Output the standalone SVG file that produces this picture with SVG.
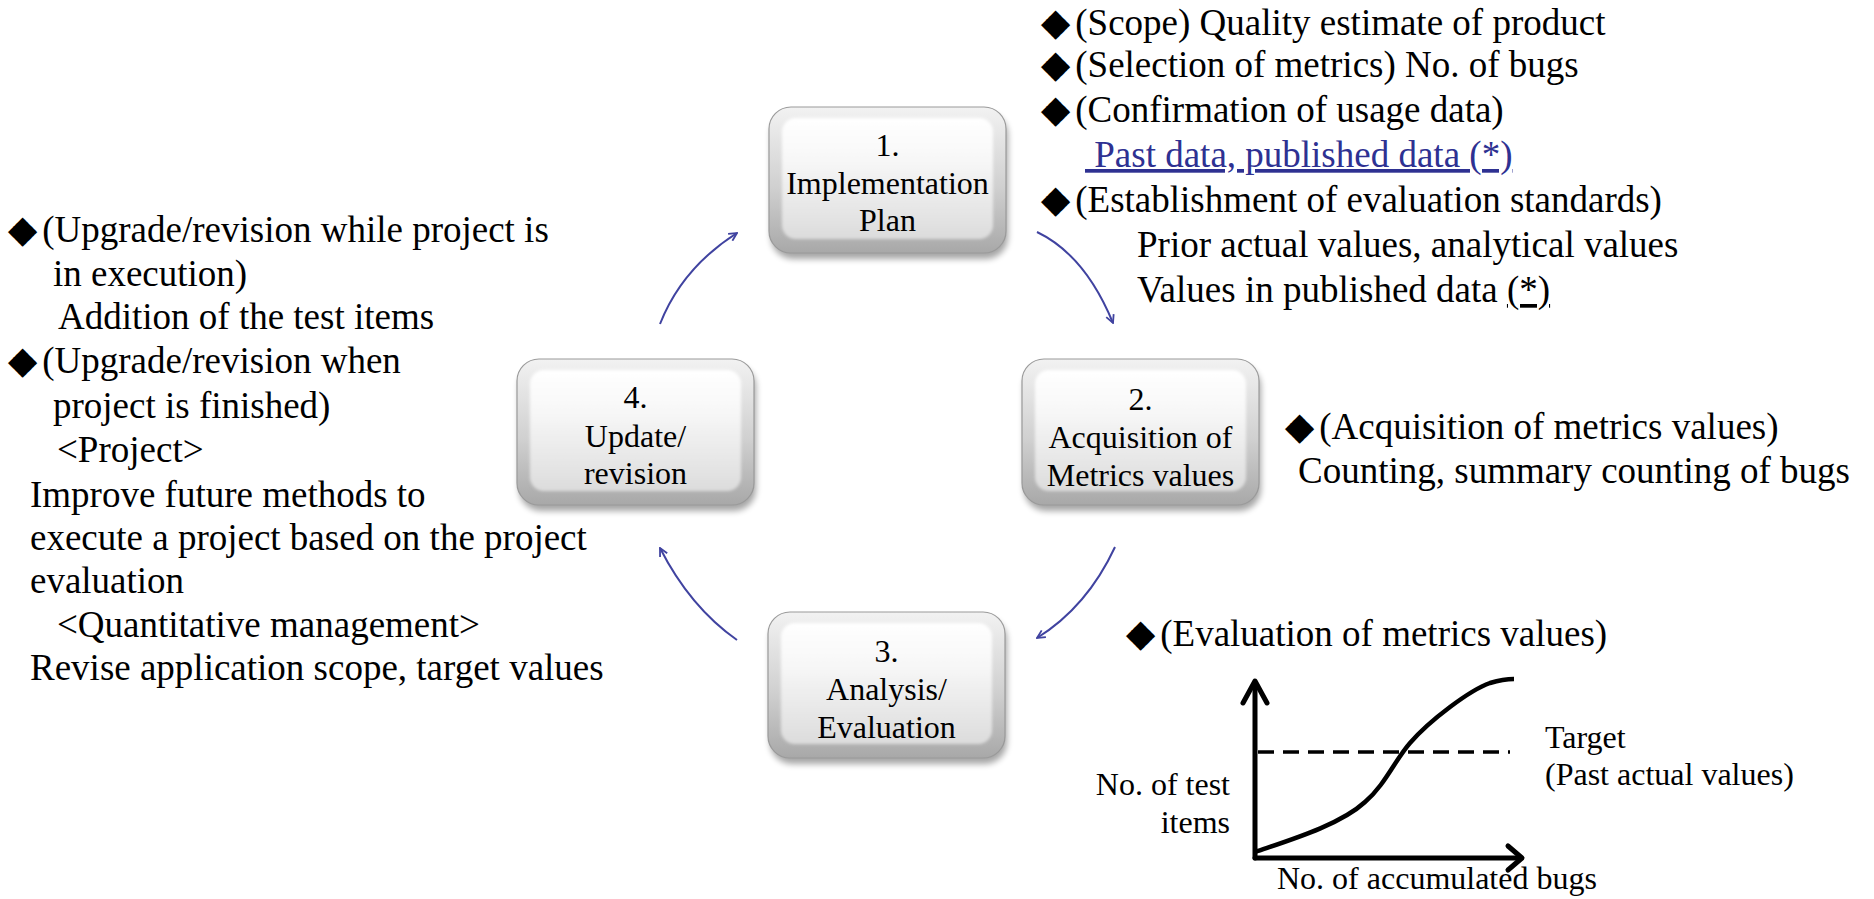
<svg xmlns="http://www.w3.org/2000/svg" width="1874" height="899" viewBox="0 0 1874 899">
<style>
.t{font-family:"Liberation Serif",serif;font-size:37px;fill:#000}
.d{font-family:"DejaVu Sans",sans-serif;font-size:38px;letter-spacing:5px}
.lnk{fill:#2e3192;text-decoration:underline}
.u{text-decoration:underline}
.b{font-family:"Liberation Serif",serif;font-size:32px;fill:#000;text-anchor:middle}
.c{font-family:"Liberation Serif",serif;font-size:32px;fill:#000}
.arr{fill:none;stroke:#4043a0;stroke-width:2;marker-end:url(#ah)}
.ax{fill:none;stroke:#000;stroke-width:5;stroke-linecap:round;stroke-linejoin:round}
.outer{fill:url(#gOuter);stroke:#9a9a9a;stroke-width:1.2}
.inner{fill:url(#gInner)}
.shadow{fill:#000;opacity:0.35;filter:url(#blur)}
</style>
<defs>
<linearGradient id="gOuter" x1="0" y1="0" x2="0" y2="1">
<stop offset="0" stop-color="#f2f2f2"/>
<stop offset="0.55" stop-color="#d0d0d0"/>
<stop offset="1" stop-color="#a8a8a8"/>
</linearGradient>
<linearGradient id="gInner" x1="0" y1="0" x2="0" y2="1">
<stop offset="0" stop-color="#ffffff"/>
<stop offset="0.35" stop-color="#f7f7f7"/>
<stop offset="1" stop-color="#dcdcdc"/>
</linearGradient>
<filter id="blur" x="-10%" y="-10%" width="120%" height="130%">
<feGaussianBlur stdDeviation="3"/>
</filter>
<filter id="soft" x="-5%" y="-5%" width="110%" height="110%">
<feGaussianBlur stdDeviation="1.5"/>
</filter>
<marker id="ah" viewBox="0 0 10 10" refX="9" refY="5" markerWidth="10" markerHeight="10" markerUnits="userSpaceOnUse" orient="auto">
<path d="M1,1 L9,5 L1,9" fill="none" stroke="#4043a0" stroke-width="1.8"/>
</marker>
</defs>

<g id="node1">
<rect class="shadow" x="771" y="113" width="237" height="146" rx="22"/>
<rect class="outer" x="769" y="107" width="237" height="146" rx="22"/>
<rect class="inner" x="782" y="118" width="211" height="121" rx="14" filter="url(#soft)"/>
<text class="b" x="887.5" y="156">1.</text>
<text class="b" x="887.5" y="194">Implementation</text>
<text class="b" x="887.5" y="231">Plan</text>
</g>

<g id="node2">
<rect class="shadow" x="1024" y="365" width="237" height="146" rx="22"/>
<rect class="outer" x="1022" y="359" width="237" height="146" rx="22"/>
<rect class="inner" x="1035" y="370" width="211" height="121" rx="14" filter="url(#soft)"/>
<text class="b" x="1140.5" y="410">2.</text>
<text class="b" x="1140.5" y="448">Acquisition of</text>
<text class="b" x="1140.5" y="486">Metrics values</text>
</g>

<g id="node3">
<rect class="shadow" x="770" y="618" width="237" height="146" rx="22"/>
<rect class="outer" x="768" y="612" width="237" height="146" rx="22"/>
<rect class="inner" x="781" y="623" width="211" height="121" rx="14" filter="url(#soft)"/>
<text class="b" x="886.5" y="662">3.</text>
<text class="b" x="886.5" y="700">Analysis/</text>
<text class="b" x="886.5" y="738">Evaluation</text>
</g>

<g id="node4">
<rect class="shadow" x="519" y="365" width="237" height="146" rx="22"/>
<rect class="outer" x="517" y="359" width="237" height="146" rx="22"/>
<rect class="inner" x="530" y="370" width="211" height="121" rx="14" filter="url(#soft)"/>
<text class="b" x="635.5" y="408">4.</text>
<text class="b" x="635.5" y="447">Update/</text>
<text class="b" x="635.5" y="484">revision</text>
</g>

<g id="connectors">
<path class="arr" d="M1037,232 Q1085,255 1113,323"/>
<path class="arr" d="M1115,547 Q1087,607 1037,638"/>
<path class="arr" d="M737,640 Q690,607 660,548"/>
<path class="arr" d="M660,324 Q682,268 737,233"/>
</g>

<g id="notes-plan">
<text class="t" x="1041" y="35"><tspan class="d">◆</tspan>(Scope) Quality estimate of product</text>
<text class="t" x="1041" y="77"><tspan class="d">◆</tspan>(Selection of metrics) No. of bugs</text>
<text class="t" x="1041" y="122"><tspan class="d">◆</tspan>(Confirmation of usage data)</text>
<text class="t lnk" x="1085" y="167" xml:space="preserve"> Past data, published data (*)</text>
<text class="t" x="1041" y="212"><tspan class="d">◆</tspan>(Establishment of evaluation standards)</text>
<text class="t" x="1137" y="257">Prior actual values, analytical values</text>
<text class="t" x="1137" y="302">Values in published data <tspan class="u">(*)</tspan></text>
</g>

<g id="notes-acquisition">
<text class="t" x="1285" y="439"><tspan class="d">◆</tspan>(Acquisition of metrics values)</text>
<text class="t" x="1298" y="483">Counting, summary counting of bugs</text>
</g>

<g id="notes-update">
<text class="t" x="8" y="242"><tspan class="d">◆</tspan>(Upgrade/revision while project is</text>
<text class="t" x="53" y="286">in execution)</text>
<text class="t" x="58" y="329">Addition of the test items</text>
<text class="t" x="8" y="373"><tspan class="d">◆</tspan>(Upgrade/revision when</text>
<text class="t" x="53" y="418">project is finished)</text>
<text class="t" x="57" y="462">&lt;Project&gt;</text>
<text class="t" x="30" y="507">Improve future methods to</text>
<text class="t" x="30" y="550">execute a project based on the project</text>
<text class="t" x="30" y="593">evaluation</text>
<text class="t" x="57" y="637">&lt;Quantitative management&gt;</text>
<text class="t" x="30" y="680">Revise application scope, target values</text>
</g>

<g id="notes-evaluation">
<text class="t" x="1126" y="646"><tspan class="d">◆</tspan>(Evaluation of metrics values)</text>
</g>

<g id="chart">
<line class="ax" x1="1255" y1="858" x2="1255" y2="683"/>
<polyline class="ax" points="1243,703 1255,681 1267,703"/>
<line class="ax" x1="1255" y1="858" x2="1521" y2="858"/>
<polyline class="ax" points="1508,846 1522,858 1508,870"/>
<line x1="1258" y1="752" x2="1510" y2="752" stroke="#000" stroke-width="3.5" stroke-dasharray="16 9"/>
<path d="M1255,852 C1290,840 1340,825 1365,802 C1385,785 1395,760 1410,743 C1430,720 1470,690 1490,683 C1500,680 1508,679 1514,679" fill="none" stroke="#000" stroke-width="4.5"/>
<text class="c" x="1230" y="795" text-anchor="end">No. of test</text>
<text class="c" x="1230" y="833" text-anchor="end">items</text>
<text class="c" x="1545" y="748">Target</text>
<text class="c" x="1545" y="785">(Past actual values)</text>
<text class="c" x="1277" y="889">No. of accumulated bugs</text>
</g>
</svg>
